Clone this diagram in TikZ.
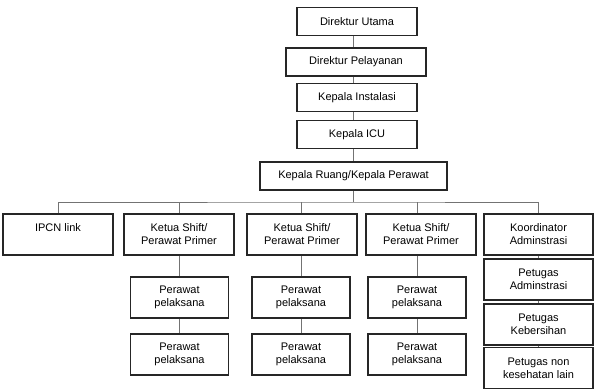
\documentclass[tikz,border=0pt]{standalone}
\usepackage{fontspec}
\setmainfont{Liberation Sans}
\begin{document}
\begin{tikzpicture}[x=1pt, y=-1pt,
    orgbox/.style={draw=black!85, line width=1.5pt, align=center, inner sep=0pt,
        minimum width=#1, font=\fontsize{11}{13}\selectfont},
    orgbox/.default=110pt,
    tall/.style={minimum height=41pt},
    flat/.style={minimum height=28pt},
    link/.style={draw=black!55, line width=0.8pt}]
    \useasboundingbox (0,0) rectangle (595,389);
    % top chain
    \node[orgbox=120pt, flat] (du) at (357,21.5) {Direktur Utama};
    \node[orgbox=140pt, flat] (dp) at (356,62) {Direktur Pelayanan};
    \node[orgbox=120pt, flat] (ki) at (357,97.5) {Kepala Instalasi};
    \node[orgbox=120pt, flat] (kicu) at (357,134.5) {Kepala ICU};
    \node[orgbox=187pt, flat] (kr) at (353.5,176) {Kepala Ruang/Kepala Perawat};
    % second row
    \node[orgbox, tall] (ipcn) at (58,234.5) {IPCN link\\~};
    \node[orgbox, tall] (ks1) at (179,234.5) {Ketua Shift/\\Perawat Primer};
    \node[orgbox, tall] (ks2) at (302,234.5) {Ketua Shift/\\Perawat Primer};
    \node[orgbox, tall] (ks3) at (421,234.5) {Ketua Shift/\\Perawat Primer};
    \node[orgbox=109pt, tall] (ko) at (538.5,234.5) {Koordinator\\Adminstrasi};
    % perawat pelaksana
    \foreach \i/\x in {1/179.5, 2/301, 3/417} {
        \node[orgbox=98pt, tall] (pa\i) at (\x,297.5) {Perawat\\pelaksana};
        \node[orgbox=98pt, tall] (pb\i) at (\x,354.5) {Perawat\\pelaksana};
    }
    % petugas
    \node[orgbox=109pt, tall] (pad) at (538.5,279.5) {Petugas\\Adminstrasi};
    \node[orgbox=109pt, tall] (pkb) at (538.5,324.5) {Petugas\\Kebersihan};
    \node[orgbox=109pt, tall] (pnk) at (538.5,368) {Petugas non\\kesehatan lain};
    % connectors
    \foreach \a/\b in {du/dp, dp/ki, ki/kicu, kicu/kr}
        \draw[link] (\a.south -| kr) -- (\b.north -| kr);
    \coordinate (bus) at (353.5,202);
    \draw[link] (kr.south) -- (bus);
    \draw[link] (ipcn.north) |- (bus) -| (ko.north);
    \foreach \i in {1,2,3} {
        \draw[link] (pa\i.north |- bus) -- (ks\i.north -| pa\i);
        \draw[link] (ks\i.south -| pa\i) -- (pa\i.north);
        \draw[link] (pa\i.south) -- (pb\i.north);
    }
    \draw[link] (ko.south) -- (pad.north);
    \draw[link] (pad.south) -- (pkb.north);
    \draw[link] (pkb.south) -- (pnk.north);
\end{tikzpicture}
\end{document}
